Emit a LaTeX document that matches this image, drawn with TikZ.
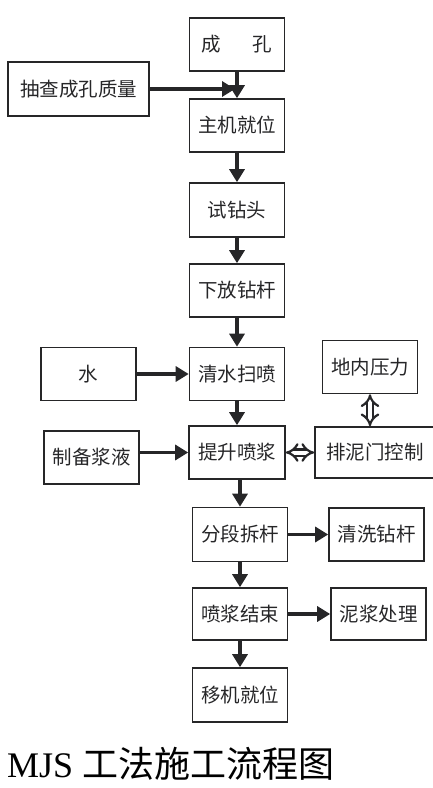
\documentclass[tikz,border=0pt]{standalone}
\usepackage{fontspec}
\setmainfont{Liberation Serif}
\newfontfamily\cjksans{Noto Sans CJK SC}
\usepackage{tikz}
\usetikzlibrary{arrows.meta,positioning}
\definecolor{flowInk}{RGB}{38,38,40}
\tikzset{
  stepbox/.style={draw=flowInk, line width=1.6pt, minimum width=95pt, minimum height=53pt,
    inner sep=0pt, text=flowInk, font=\cjksans\fontsize{19.5}{22}\selectfont},
  flowarrow/.style={draw=flowInk, line width=3.2pt, -{Triangle[length=13pt,width=15pt]}},
  twoway/.style={draw=flowInk, double=white, double distance=4pt, line width=2.2pt,
    {Implies[length=5.5pt,width=17pt]}-{Implies[length=5.5pt,width=17pt]}}
}

\begin{document}
\begin{tikzpicture}[x=1pt,y=-1pt]
  \useasboundingbox (0,0) rectangle (432,788);
  \node[stepbox] (chengkong) at (237,44.5) {成\hspace{1.6em}孔};
  \node[stepbox, minimum width=141pt, minimum height=54pt] (chacha) at (78.5,89) {抽查成孔质量};
  \node[stepbox] (zhuji) at (237,125.5) {主机就位};
  \node[stepbox, minimum height=54pt] (shizuan) at (237,210) {试钻头};
  \node[stepbox] (xiafang) at (237,290.5) {下放钻杆};
  \node[stepbox] (shui) at (88.5,374) {水};
  \node[stepbox] (qingshui) at (237,374) {清水扫喷};
  \node[stepbox] (dinei) at (370,367) {地内压力};
  \node[stepbox] (zhibei) at (91.5,457.5) {制备浆液};
  \node[stepbox, minimum width=96pt] (tisheng) at (237,452.5) {提升喷浆};
  \node[stepbox, minimum width=120pt, minimum height=51pt] (paini) at (375,452.5) {排泥门控制};
  \node[stepbox, minimum height=54pt] (fenduan) at (240,534.5) {分段拆杆};
  \node[stepbox] (qingxi) at (376.5,534.5) {清洗钻杆};
  \node[stepbox, minimum height=52pt] (penjiang) at (240,614) {喷浆结束};
  \node[stepbox, minimum height=52pt] (nijiang) at (378.5,614) {泥浆处理};
  \node[stepbox, minimum height=54pt] (yiji) at (240,695) {移机就位};
  \node[anchor=base west, inner sep=0pt, text=black, font=\fontsize{36}{40}\selectfont] (title) at (7,777)
    {MJS {\cjksans 工法施工流程图}};

  \draw[flowarrow, shorten >=2pt] (chacha) -- (chacha -| chengkong);
  \draw[flowarrow] (chengkong) -- (zhuji);
  \draw[flowarrow] (zhuji) -- (shizuan);
  \draw[flowarrow] (shizuan) -- (xiafang);
  \draw[flowarrow] (xiafang) -- (qingshui);
  \draw[flowarrow] (shui) -- (qingshui);
  \draw[flowarrow] (qingshui) -- (tisheng);
  \draw[flowarrow] (tisheng -| zhibei.east) -- (tisheng);
  \draw[flowarrow] (tisheng.south -| fenduan) -- (fenduan);
  \draw[flowarrow] (fenduan) -- (qingxi);
  \draw[flowarrow] (fenduan) -- (penjiang);
  \draw[flowarrow] (penjiang) -- (nijiang);
  \draw[flowarrow] (penjiang) -- (yiji);
  \draw[twoway] (tisheng) -- (paini);
  \draw[twoway] (dinei) -- (dinei |- paini.north);
\end{tikzpicture}
\end{document}
